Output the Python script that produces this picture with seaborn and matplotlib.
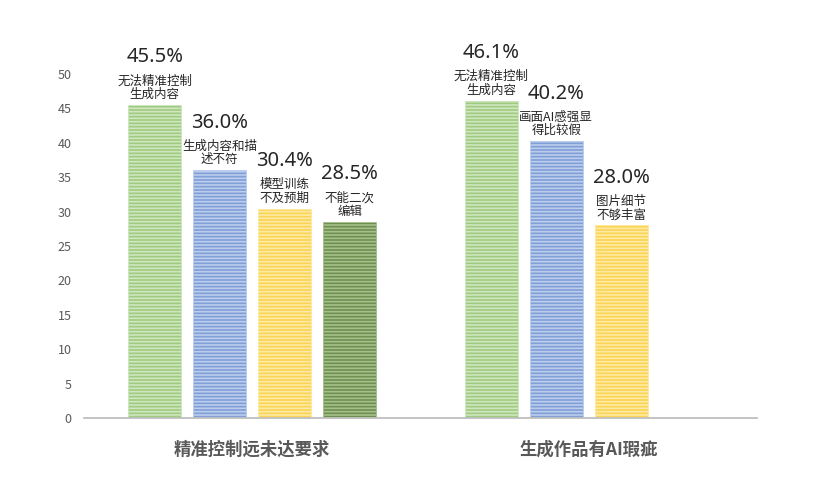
import matplotlib
matplotlib.use("Agg")
import matplotlib.pyplot as plt
import seaborn as sns
import pandas as pd

groups = ["精准控制远未达要求", "精准控制远未达要求", "精准控制远未达要求", "精准控制远未达要求",
          "生成作品有AI瑕疵", "生成作品有AI瑕疵", "生成作品有AI瑕疵"]
slots = ["s0", "s1", "s2", "s3", "s0", "s1", "s2"]
values = [45.5, 36.0, 30.4, 28.5, 46.1, 40.2, 28.0]
pct_labels = ["45.5%", "36.0%", "30.4%", "28.5%", "46.1%", "40.2%", "28.0%"]
sub_labels = ["无法精准控制\n生成内容", "生成内容和描\n述不符", "模型训练\n不及预期", "不能二次\n编辑",
              "无法精准控制\n生成内容", "画面AI感强显\n得比较假", "图片细节\n不够丰富"]
group_order = ["精准控制远未达要求", "生成作品有AI瑕疵"]
slot_order = ["s0", "s1", "s2", "s3"]
y_ticks = [0, 5, 10, 15, 20, 25, 30, 35, 40, 45, 50]

face_colors = {"s0": "#9fcb80", "s1": "#7f9fd6", "s2": "#f9d455", "s3": "#6f9150"}
stripe_colors = {"s0": "#cfe6bf", "s1": "#bccdee", "s2": "#ffeaa3", "s3": "#a5c08c"}

sns.set_theme(style="white")
plt.rcParams['font.family'] = ['Noto Sans CJK SC', 'DejaVu Sans']
plt.rcParams['hatch.linewidth'] = 1.2

df = pd.DataFrame({"group": groups, "slot": slots, "value": values,
                   "pct": pct_labels, "sub": sub_labels})

fig = plt.figure(figsize=(8.17, 4.97), dpi=100)
ax = fig.add_axes([84 / 817, 79 / 497, 673 / 817, 344 / 497])

sns.barplot(data=df, x="group", y="value", hue="slot", order=group_order,
            hue_order=slot_order, palette=face_colors, width=0.773, gap=0.185,
            legend=False, ax=ax, saturation=1)

for h, cont in zip(slot_order, ax.containers):
    sub = df[df.slot == h].copy()
    sub["o"] = sub.group.map({g: i for i, g in enumerate(group_order)})
    sub = sub.sort_values("o")
    for patch, (_, row) in zip(cont.patches, sub.iterrows()):
        patch.set_hatch("-" * 5)
        patch.set_edgecolor(stripe_colors[h])
        patch.set_linewidth(0.6)
        xc = patch.get_x() + patch.get_width() / 2
        top = patch.get_height()
        ax.annotate(row["sub"], (xc, top), xytext=(0, 3), textcoords="offset points",
                    ha="center", va="bottom", fontsize=9, color="#262626",
                    linespacing=1.05)
        ax.annotate(row["pct"], (xc, top), xytext=(0, 27), textcoords="offset points",
                    ha="center", va="bottom", fontsize=14.5, color="#262626",
                    family=['Noto Sans', 'DejaVu Sans'])

ax.set_xlim(-0.5, 1.5)
ax.set_ylim(0, 50)
ax.set_yticks(y_ticks)
ax.set_xlabel("")
ax.set_ylabel("")
for s in ["top", "right", "left"]:
    ax.spines[s].set_visible(False)
ax.spines["bottom"].set_color("#bfbfbf")
ax.spines["bottom"].set_linewidth(1.3)
ax.tick_params(axis="y", length=0, pad=9, labelsize=9, labelcolor="#595959")
ax.tick_params(axis="x", length=0, pad=16, labelsize=12.5, labelcolor="#595959")
for t in ax.get_xticklabels():
    t.set_fontweight("bold")
ax.grid(False)

fig.savefig("out.png", dpi=100, facecolor="white")
